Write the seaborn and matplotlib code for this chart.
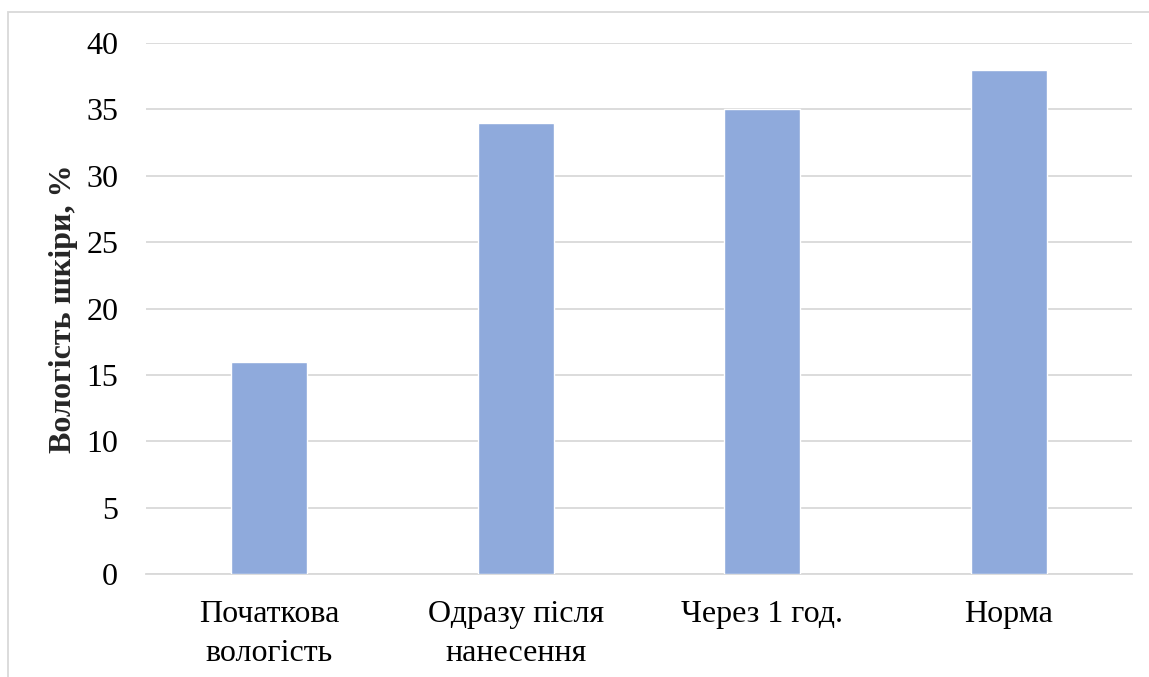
import pandas as pd
import matplotlib.pyplot as plt
import seaborn as sns
from matplotlib.patches import Rectangle

# дані
категорії = ["Початкова\nвологість", "Одразу після\nнанесення", "Через 1 год.", "Норма"]
значення = [16, 34, 35, 38]
поділки_y = [0, 5, 10, 15, 20, 25, 30, 35, 40]

df = pd.DataFrame({"категорія": категорії, "вологість": значення})

sns.set_theme(style="white")
plt.rcParams['font.family'] = ['Liberation Serif', 'DejaVu Serif']

fig = plt.figure(figsize=(11.49, 6.77), dpi=100)
ax = fig.add_axes([146 / 1149, 1 - 574 / 677, (1132 - 146) / 1149, (574 - 43) / 677])

sns.barplot(data=df, x="категорія", y="вологість", color="#8FAADC",
            saturation=1, width=0.31, ax=ax, zorder=3)

ax.set_ylim(0, 40)
ax.set_yticks(поділки_y)
ax.yaxis.grid(True, color="#D9D9D9", linewidth=1.3, zorder=0)
ax.set_axisbelow(True)
for s in ["top", "right", "left"]:
    ax.spines[s].set_visible(False)
ax.spines["bottom"].set_color("#D9D9D9")
ax.spines["bottom"].set_linewidth(1.3)
ax.tick_params(axis="both", length=0, labelsize=23, colors="black")
ax.tick_params(axis="y", pad=20)
ax.tick_params(axis="x", pad=19)
for lbl in ax.get_xticklabels():
    lbl.set_linespacing(1.45)

ax.set_xlabel("")
ax.set_ylabel("Вологість шкіри, %", fontsize=23, fontweight="bold", labelpad=6)

# рамка діаграми
fig.patches.append(Rectangle((8 / 1149, -0.1), 1.2, 1 - 12 / 677 + 0.1,
                             transform=fig.transFigure, fill=False,
                             edgecolor="#D9D9D9", linewidth=1.3))

fig.savefig("out.png", dpi=100)
plt.close()
